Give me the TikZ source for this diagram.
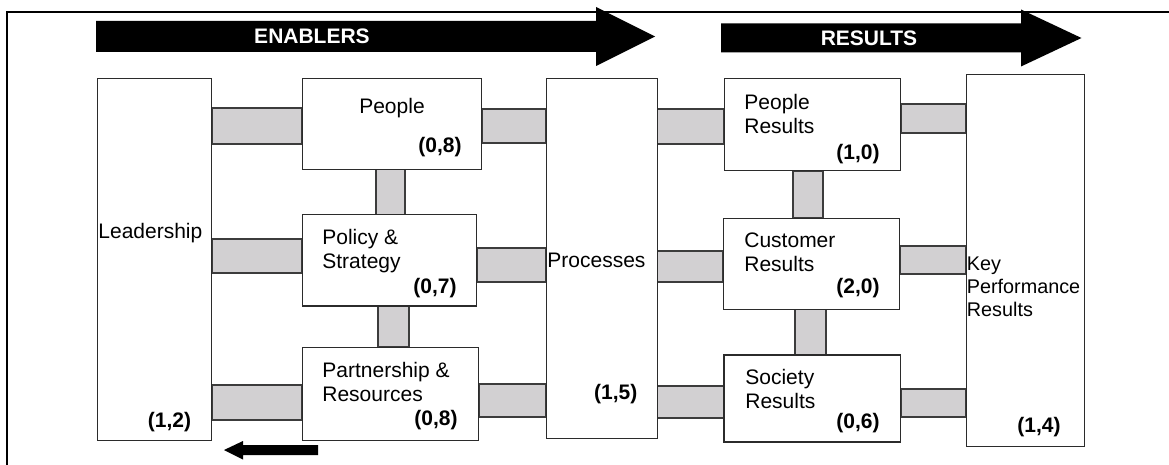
\documentclass[tikz,border=0pt]{standalone}
\usepackage{fontspec}
\setmainfont{Liberation Sans}
\setsansfont{Liberation Sans}
\newcommand{\sansall}{\sffamily}
\usepackage{tikz}
\usetikzlibrary{positioning,fit,backgrounds}
\definecolor{edge}{HTML}{2B2B2B}
\definecolor{barfill}{HTML}{D2D0D2}
\definecolor{barline}{HTML}{3C3C3C}
\newcommand{\boxfont}{\sansall\fontsize{10.5pt}{12pt}\selectfont}
\tikzset{
  crit/.style={draw=edge, line width=0.5pt, fill=white, inner sep=0pt},
  critb/.style={crit, line width=0.9pt},
  link/.style={draw=barline, line width=0.6pt, fill=barfill},
  txt/.style={inner sep=0pt, align=left, font=\boxfont},
  score/.style={inner sep=0pt, font=\boxfont\bfseries},
  banner/.style={fill=black},
  bantxt/.style={inner sep=0pt, text=white, font=\boxfont\bfseries},
  frame/.style={draw=black, line width=1pt},
}

\begin{document}
\begin{tikzpicture}[x=0.5pt, y=-0.5pt]
  \useasboundingbox (0,0) rectangle (1169,465);
  \draw[frame] (7,465) -- (7,12) -- (1169,12);

  % --- ลูกศรหัวข้อ ---
  \fill[banner] (96,21) -- (596,21) -- (596,7) -- (655,36.5) -- (596,66)
                -- (596,52) -- (96,52) -- cycle;
  \node[bantxt] (enab) at (312,36.5) {ENABLERS};
  \fill[banner] (721,23.5) -- (1021,23.5) -- (1021,9.5) -- (1081.5,38)
                -- (1021,66.5) -- (1021,52.5) -- (721,52.5) -- cycle;
  \node[bantxt] (res) at (869,38) {RESULTS};
  \fill[banner] (318,445) -- (243,445) -- (243,441) -- (224,450)
                -- (243,459.5) -- (243,455) -- (318,455) -- cycle;

  % --- enablers ---
  \node[crit, fit={(97.6,79) (211.6,440)}] (lead) {};
  \node[crit, fit={(302,79) (481.4,169.3)}] (people) {};
  \node[crit, fit={(302,215) (476.5,306)}] (policy) {};
  \node[crit, fit={(302.3,347.3) (478.4,440)}] (partner) {};
  \node[crit, fit={(546.5,79) (657,438.3)}] (proc) {};

  % --- results ---
  \node[crit, fit={(724,78.3) (900.4,171)}] (pres) {};
  \node[crit, fit={(723,218.3) (899.7,309.3)}] (cres) {};
  \node[critb, fit={(724,355) (900.4,442.3)}] (sres) {};
  \node[crit, fit={(966.2,74.3) (1084.5,446)}] (kpr) {};

  % --- ข้อความในกล่อง ---
  \node[txt, anchor=west] (leadT) at (98,233) {Leadership};
  \node[score] (leadS) at (169.5,422) {(1,2)};
  \node[txt] (peopleT) at (392,108) {People};
  \node[score] (peopleS) at (440,147) {(0,8)};
  \node[txt, anchor=west] (policyT) at (322,251) {Policy \&\\Strategy};
  \node[score] (policyS) at (435,288) {(0,7)};
  \node[txt, anchor=west] (partnerT) at (322,382) {Partnership \&\\Resources};
  \node[score] (partnerS) at (436,420) {(0,8)};
  \node[txt, anchor=west] (procT) at (547,260) {Processes};
  \node[score] (procS) at (615.7,394) {(1,5)};
  \node[txt, anchor=west] (presT) at (744,114) {People\\Results};
  \node[score] (presS) at (858,154) {(1,0)};
  \node[txt, anchor=west] (cresT) at (744,252) {Customer\\Results};
  \node[score] (cresS) at (858,288) {(2,0)};
  \node[txt, anchor=west] (sresT) at (745,389) {Society\\Results};
  \node[score] (sresS) at (858,423) {(0,6)};
  \node[txt, anchor=west, font=\sansall\fontsize{9.9pt}{11.5pt}\selectfont]
       (kprT) at (966.5,287) {Key\\Performance\\Results};
  \node[score] (kprS) at (1039,427) {(1,4)};

  % --- แถบเชื่อม ---
  \begin{scope}[on background layer]
    \foreach \a/\b/\ya/\yb in {lead/people/108/144, lead/policy/239/273,
        lead/partner/385/420, people/proc/109/143, policy/proc/248/282,
        partner/proc/384/417, proc/pres/109/144, proc/cres/251/282,
        proc/sres/386/418, pres/kpr/104/133, cres/kpr/246/274,
        sres/kpr/389/417}
      \filldraw[link] (\a.east |- 0,\ya) rectangle (\b.west |- 0,\yb);
    \foreach \a/\b/\xa/\xb in {people/policy/376/405, policy/partner/378/409,
        pres/cres/793/823, cres/sres/795/826}
      \filldraw[link] (\xa,0 |- \a.south) rectangle (\xb,0 |- \b.north);
  \end{scope}
\end{tikzpicture}
\end{document}
